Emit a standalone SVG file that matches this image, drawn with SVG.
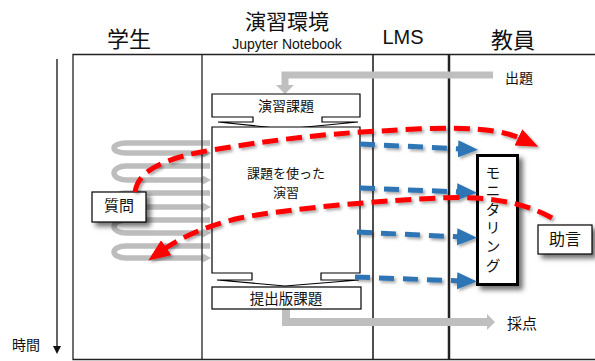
<svg xmlns="http://www.w3.org/2000/svg" width="595" height="361" viewBox="0 0 595 361">
<defs>
<style>
text { font-family: "Noto Sans CJK JP", "Noto Sans", sans-serif; fill: #111; }
.h { font-size: 22px; text-anchor: middle; }
.lat { font-family: "Liberation Sans", Arial, sans-serif; text-anchor: middle; }
.c { text-anchor: middle; }
.frame { fill: none; stroke: #222; stroke-width: 1.3; }
.loop { fill: none; stroke: #bdbdbd; stroke-width: 5.5; marker-end: url(#gh); }
.gray { fill: none; stroke: #bfbfbf; }
.red { fill: none; stroke: #ff0000; stroke-width: 5; stroke-dasharray: 16 8; marker-end: url(#rh); }
.blue { fill: none; stroke: #2e75b6; stroke-width: 5; stroke-dasharray: 15 9; marker-end: url(#bh); }
.box { fill: #fff; stroke: #000; stroke-width: 1.2; }
</style>
<marker id="rh" markerUnits="userSpaceOnUse" markerWidth="24" markerHeight="20" refX="4" refY="9" orient="auto"><path d="M0,0 L22,9 L0,18 z" fill="#ff0000"/></marker>
<marker id="bh" markerUnits="userSpaceOnUse" markerWidth="22" markerHeight="19" refX="4" refY="8.5" orient="auto"><path d="M0,0 L20,8.5 L0,17 z" fill="#2e75b6"/></marker>
<marker id="gh" markerUnits="userSpaceOnUse" markerWidth="10" markerHeight="10" refX="1" refY="4.5" orient="auto"><path d="M0,0 L8,4.5 L0,9 z" fill="#bdbdbd"/></marker>
<marker id="ah" markerUnits="userSpaceOnUse" markerWidth="10" markerHeight="10" refX="1" refY="4" orient="auto"><path d="M0,0 L8,4 L0,8 z" fill="#111"/></marker>
<filter id="sh" x="-30%" y="-30%" width="170%" height="170%"><feDropShadow dx="4" dy="4" stdDeviation="2.5" flood-color="#000" flood-opacity="0.55"/></filter>
<filter id="lsh" x="-10%" y="-20%" width="120%" height="150%"><feDropShadow dx="2" dy="2" stdDeviation="1.5" flood-color="#000" flood-opacity="0.35"/></filter>
</defs>
<rect width="595" height="361" fill="#fff"/>

<g id="loops">
<path class="loop" d="M210,143 H126 A12,5 0 0 0 126,153 H204"/>
<path class="loop" d="M210,166 H126 A12,7 0 0 0 126,180 H204"/>
<path class="loop" d="M210,193 H126 A12,7 0 0 0 126,207 H204"/>
<path class="loop" d="M210,220 H126 A12,6.5 0 0 0 126,233 H204"/>
<path class="loop" d="M210,246 H126 A12,6 0 0 0 126,258 H204"/>
</g>

<g id="frame">
<path class="frame" d="M596,54.5 H73 V359.5 H596"/>
<line class="frame" x1="202" y1="54" x2="202" y2="360"/>
<line class="frame" x1="373" y1="54" x2="373" y2="360" style="stroke-width:1.6"/>
<line class="frame" x1="449" y1="54" x2="449" y2="360" style="stroke-width:2.5"/>
</g>

<g id="headers">
<text class="h" x="129" y="47">学生</text>
<text class="c" x="287" y="29" style="font-size:21px">演習環境</text>
<text class="lat" x="287" y="49" style="font-size:14px">Jupyter Notebook</text>
<text class="lat" x="403" y="44" style="font-size:20px">LMS</text>
<text class="h" x="513" y="48">教員</text>
</g>

<g id="time-axis">
<line x1="57" y1="59" x2="57" y2="347" stroke="#111" stroke-width="1.3" marker-end="url(#ah)"/>
<text x="26" y="350" class="c" style="font-size:14px">時間</text>
</g>

<g id="connectors">
<g id="shutsudai-arrow">
<path class="gray" d="M493,75 H285 V86" style="stroke-width:7"/>
<polygon points="276,85 294,85 285,94" fill="#bfbfbf"/>
</g>
<g id="saiten-arrow">
<path class="gray" d="M286,309 V322 H487" style="stroke-width:8"/>
<polygon points="487,314 487,330 495,322" fill="#bfbfbf"/>
</g>
</g>

<g id="enshu-kadai">
<path class="box" d="M212,94 H360 V117 H322 V122 H358 L285,129 L218,122 H253 V117 H212 Z"/>
<text x="286" y="111" class="c" style="font-size:14px">演習課題</text>
</g>

<g id="kadai-enshu">
<path class="box" d="M212,127 H360 V273 H321 V280 H359 L285,286 L217,280 H252 V273 H212 Z"/>
<text x="286" y="178" class="c" style="font-size:13px">課題を使った</text>
<text x="286" y="197" class="c" style="font-size:13px">演習</text>
</g>

<g id="teishutsu-kadai">
<rect class="box" x="212" y="287" width="149" height="22"/>
<text x="286" y="303.5" class="c" style="font-size:14.5px">提出版課題</text>
</g>

<g id="shutsudai-label"><text x="519" y="83" class="c" style="font-size:14px">出題</text></g>
<g id="saiten-label"><text x="522" y="329" class="c" style="font-size:15px">採点</text></g>

<g id="monitoring">
<rect x="477.5" y="155.5" width="40" height="129" fill="#fff" stroke="#000" stroke-width="3" filter="url(#sh)"/>
<text x="493" y="164.5" style="font-size:15px; writing-mode:vertical-rl; letter-spacing:3.6px">モニタリング</text>
</g>

<g id="shitsumon">
<rect class="box" x="92" y="192" width="54" height="30" filter="url(#sh)"/>
<text x="119" y="211" class="c" style="font-size:15px">質問</text>
</g>

<g id="jogen">
<rect class="box" x="538" y="225" width="54" height="29" filter="url(#sh)"/>
<text x="565" y="244.5" class="c" style="font-size:16px">助言</text>
</g>

<g id="flows" filter="url(#lsh)">
<path class="blue" d="M360,144 L462,149"/>
<path class="blue" d="M360,188 L461,192"/>
<path class="blue" d="M357,232 L461,237"/>
<path class="blue" d="M355,277 L461,281"/>
<path class="red" d="M135,192 C138,170 165,158 212,150 C265,141 320,134 380,131 C430,128 490,124 522,139"/>
<path class="red" d="M552,218 C520,200 480,196 440,198 C390,200 290,208 240,218 C205,226 180,238 163,250"/>
</g>
</svg>
